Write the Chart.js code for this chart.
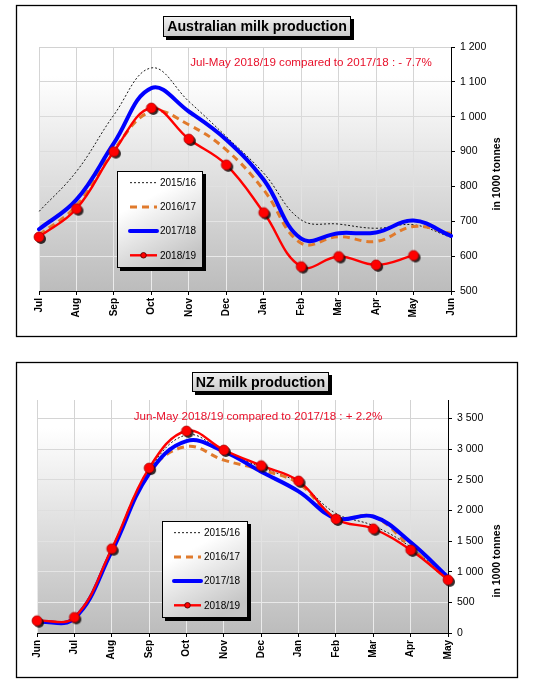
<!DOCTYPE html>
<html>
<head>
<meta charset="utf-8">
<script src="https://cdn.jsdelivr.net/npm/chart.js@4.4.1/dist/chart.umd.min.js"></script>
<style>
  html, body { margin: 0; padding: 0; background: #fff; }
  body { width: 547px; height: 681px; position: relative; overflow: hidden; }
  canvas { position: absolute; left: 0; }
  #aus { top: 0; }
  #nz { top: 340px; }
</style>
</head>
<body>
<canvas id="aus" width="547" height="340"></canvas>
<canvas id="nz" width="547" height="341"></canvas>
<script>
// ═══════════════════════════════════════════════════════
//  DATI
// ═══════════════════════════════════════════════════════
const seasons = ['2015/16', '2016/17', '2017/18', '2018/19'];

const ausMonths = ['Jul','Aug','Sep','Oct','Nov','Dec','Jan','Feb','Mar','Apr','May','Jun'];
const aus1516 = [728, 843, 1005, 1140, 1044, 943, 838, 704, 692, 680, 690, 654];
const aus1617 = [660, 745, 905, 1015, 977, 905, 790, 637, 656, 642, 685, 665];
const aus1718 = [677, 762, 924, 1082, 1015, 934, 819, 650, 666, 668, 702, 658];
const aus1819 = [655, 736, 900, 1025, 936, 862, 725, 570, 599, 575, 602, null];
const ausTicks = [500, 600, 700, 800, 900, 1000, 1100, 1200];

const nzMonths = ['Jun','Jul','Aug','Sep','Oct','Nov','Dec','Jan','Feb','Mar','Apr','May'];
const nz1516 = [190, 250, 1360, 2650, 3230, 2960, 2700, 2450, 1950, 1750, 1400, 870];
const nz1617 = [190, 250, 1350, 2620, 3040, 2820, 2660, 2440, 1880, 1900, 1400, 870];
const nz1718 = [180, 240, 1330, 2600, 3130, 2960, 2630, 2310, 1870, 1900, 1480, 910];
const nz1819 = [200, 255, 1375, 2690, 3295, 2985, 2730, 2480, 1860, 1700, 1355, 868];
const nzTicks = [0, 500, 1000, 1500, 2000, 2500, 3000, 3500];

Chart.defaults.font.family = '"Liberation Sans", Arial, sans-serif';
Chart.defaults.color = '#000';

const RED = '#ff0000';
const TXT_RED = '#e8102a';

// marker rosso con ombra
function makeMarker() {
  const c = document.createElement('canvas');
  c.width = 18; c.height = 18;
  const g = c.getContext('2d');
  g.fillStyle = 'rgba(20,10,10,0.85)';
  g.beginPath(); g.arc(11, 11, 5, 0, Math.PI * 2); g.fill();
  g.fillStyle = RED;
  g.strokeStyle = '#a00000';
  g.lineWidth = 0.7;
  g.beginPath(); g.arc(9, 9, 5, 0, Math.PI * 2); g.fill(); g.stroke();
  return c;
}
const marker = makeMarker();

function fmtNum(v) {
  if (v >= 1000) return Math.floor(v / 1000) + ' ' + String(v % 1000).padStart(3, '0');
  return String(v);
}

function gridGradient(ctx) {
  const ca = ctx.chart.chartArea;
  if (!ca) return '#d8d8d8';
  const g = ctx.chart.ctx.createLinearGradient(0, ca.top, 0, ca.bottom);
  g.addColorStop(0, '#d2d2d2');
  g.addColorStop(1, '#ececec');
  return g;
}

// ═══════════════════════════════════════════════════════
//  PLUGIN DECORAZIONI
// ═══════════════════════════════════════════════════════
const decoPlugin = {
  id: 'deco',
  beforeDraw(chart, args, o) {
    const ctx = chart.ctx, ca = chart.chartArea;
    ctx.save();
    ctx.fillStyle = '#fff';
    ctx.fillRect(0, 0, chart.width, chart.height);
    // cornice esterna
    ctx.strokeStyle = '#000';
    ctx.lineWidth = 1.3;
    ctx.strokeRect(o.frame[0] + 0.5, o.frame[1] + 0.5, o.frame[2], o.frame[3]);
    // sfondo area grafico
    const g = ctx.createLinearGradient(0, ca.top, 0, ca.bottom);
    g.addColorStop(0, '#ffffff');
    g.addColorStop(0.12, '#ffffff');
    g.addColorStop(1, '#bcbcbc');
    ctx.fillStyle = g;
    ctx.fillRect(ca.left, ca.top, ca.right - ca.left, ca.bottom - ca.top);
    ctx.restore();
  },
  afterDraw(chart, args, o) {
    const ctx = chart.ctx;
    ctx.save();
    // titolo in riquadro
    const [tx, ty, tw, th] = o.titleBox;
    ctx.fillStyle = '#000';
    ctx.fillRect(tx + 3, ty + 3, tw, th);
    const tg = ctx.createLinearGradient(0, ty, 0, ty + th);
    tg.addColorStop(0, '#f2f2f2');
    tg.addColorStop(1, '#c9c9c9');
    ctx.fillStyle = tg;
    ctx.fillRect(tx, ty, tw, th);
    ctx.strokeStyle = '#000';
    ctx.lineWidth = 1;
    ctx.strokeRect(tx + 0.5, ty + 0.5, tw - 1, th - 1);
    ctx.fillStyle = '#000';
    ctx.font = 'bold 14.2px "Liberation Sans", Arial, sans-serif';
    ctx.textAlign = 'center';
    ctx.textBaseline = 'middle';
    ctx.fillText(o.title, tx + tw / 2, ty + th / 2 + 1);

    // nota in rosso
    ctx.fillStyle = TXT_RED;
    ctx.font = '11.6px "Liberation Sans", Arial, sans-serif';
    ctx.fillText(o.note, o.notePos[0], o.notePos[1]);

    // titolo asse y
    ctx.save();
    ctx.translate(o.axisTitlePos[0], o.axisTitlePos[1]);
    ctx.rotate(-Math.PI / 2);
    ctx.fillStyle = '#000';
    ctx.font = 'bold 10.5px "Liberation Sans", Arial, sans-serif';
    ctx.fillText('in 1000 tonnes', 0, 0);
    ctx.restore();

    // legenda
    const [lx, ly, lw, lh] = o.legendBox;
    ctx.fillStyle = '#000';
    ctx.fillRect(lx + 3, ly + 3, lw, lh);
    const lg = ctx.createLinearGradient(lx, ly, lx + lw * 0.6, ly + lh);
    lg.addColorStop(0, '#ffffff');
    lg.addColorStop(0.35, '#ffffff');
    lg.addColorStop(1, '#c4c4c4');
    ctx.fillStyle = lg;
    ctx.fillRect(lx, ly, lw, lh);
    ctx.strokeStyle = '#000';
    ctx.lineWidth = 1;
    ctx.strokeRect(lx + 0.5, ly + 0.5, lw - 1, lh - 1);

    const items = [...chart.data.datasets].sort((a, b) => seasons.indexOf(a.label) - seasons.indexOf(b.label));
    items.forEach((ds, i) => {
      const y = ly + 11.7 + i * 24.2;
      const x0 = lx + o.legendInset, x1 = x0 + 27;
      ctx.save();
      ctx.strokeStyle = ds.borderColor;
      ctx.lineWidth = ds.borderWidth;
      ctx.lineCap = ds.borderCapStyle || 'butt';
      ctx.setLineDash(ds.borderDash || []);
      ctx.beginPath(); ctx.moveTo(x0, y); ctx.lineTo(x1, y); ctx.stroke();
      ctx.restore();
      if (ds.pointRadius) {
        ctx.fillStyle = RED;
        ctx.strokeStyle = '#400';
        ctx.lineWidth = 0.8;
        ctx.beginPath(); ctx.arc((x0 + x1) / 2, y, 2.8, 0, Math.PI * 2); ctx.fill(); ctx.stroke();
      }
      ctx.fillStyle = '#000';
      ctx.font = '10px "Liberation Sans", Arial, sans-serif';
      ctx.textAlign = 'left';
      ctx.textBaseline = 'middle';
      ctx.fillText(ds.label, x1 + 3, y + 0.5);
    });
    ctx.restore();
  }
};

function datasets(d1516, d1617, d1718, d1819) {
  return [
    { label: '2018/19', data: d1819, borderColor: RED, borderWidth: 2.4, order: 0,
      pointStyle: marker, pointRadius: 5, pointHoverRadius: 5 },
    { label: '2017/18', data: d1718, borderColor: '#0000ff', borderWidth: 4, order: 1,
      borderCapStyle: 'round', pointRadius: 0 },
    { label: '2016/17', data: d1617, borderColor: '#e07a2c', borderWidth: 3, order: 2,
      borderDash: [7, 5], pointRadius: 0 },
    { label: '2015/16', data: d1516, borderColor: '#000', borderWidth: 0.9, order: 3,
      borderDash: [2, 2], pointRadius: 0 },
  ].map(ds => ({ ...ds, tension: 0.4, fill: false, backgroundColor: ds.borderColor }));
}

function buildChart(id, months, dsets, yMin, yMax, yTicks, area, deco) {
  const [left, top, right, bottom] = area;
  const W = 547, H = document.getElementById(id).height;
  return new Chart(document.getElementById(id), {
    type: 'line',
    data: { labels: months, datasets: dsets },
    options: {
      responsive: false, animation: false, devicePixelRatio: 1,
      layout: { padding: { left: left, top: top, right: 0, bottom: 0 } },
      plugins: { legend: { display: false }, title: { display: false }, tooltip: { enabled: false }, deco: deco },
      scales: {
        x: {
          offset: false,
          afterFit: s => { s.height = H - bottom; },
          grid: { color: gridGradient, lineWidth: 1, tickColor: '#000', tickLength: 4 },
          border: { display: true, color: '#000', width: 1 },
          ticks: { autoSkip: false, minRotation: 90, maxRotation: 90, padding: 3,
                   font: { size: 10, weight: 'bold' } }
        },
        y: {
          position: 'right', min: yMin, max: yMax,
          afterFit: s => { s.width = W - right; },
          afterBuildTicks: s => { s.ticks = yTicks.map(v => ({ value: v })); },
          grid: { color: gridGradient, lineWidth: 1, tickColor: '#000', tickLength: 4 },
          border: { display: true, color: '#000', width: 1 },
          ticks: { padding: 5, font: { size: 10.5 }, callback: v => fmtNum(v) }
        }
      }
    },
    plugins: [decoPlugin]
  });
}

// ═══════════════════════════════════════════════════════
//  GRAFICI
// ═══════════════════════════════════════════════════════
buildChart('aus', ausMonths, datasets(aus1516, aus1617, aus1718, aus1819), 500, 1200, ausTicks,
  [39, 47, 451, 291],
  { frame: [16, 5, 500, 331], titleBox: [163, 16, 188, 21], title: 'Australian milk production',
    note: 'Jul-May 2018/19 compared to 2017/18 : - 7.7%', notePos: [311, 63],
    axisTitlePos: [497, 174], legendBox: [117, 171, 86, 97], legendInset: 13 });

buildChart('nz', nzMonths, datasets(nz1516, nz1617, nz1718, nz1819), 0, 3800, nzTicks,
  [37, 60, 448, 293],
  { frame: [16, 22, 501, 315], titleBox: [192, 32, 137, 20], title: 'NZ milk production',
    note: 'Jun-May 2018/19 compared to 2017/18 : + 2.2%', notePos: [258, 77],
    axisTitlePos: [497, 221], legendBox: [162, 181, 86, 97], legendInset: 12 });
</script>
</body>
</html>
